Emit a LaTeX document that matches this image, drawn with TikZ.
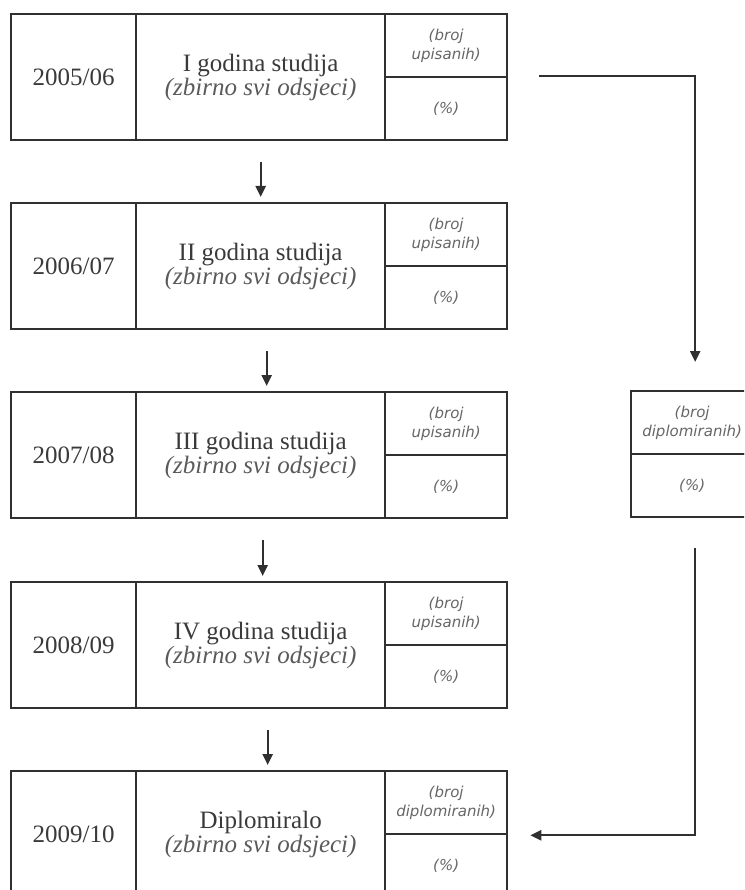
\documentclass[tikz,border=0pt]{standalone}
\usepackage{fontspec}
\setmainfont{Liberation Serif}
\newfontfamily\smallit{DejaVu Sans Oblique}
\usetikzlibrary{arrows.meta,calc}
\definecolor{ln}{HTML}{303030}
\definecolor{tx}{HTML}{3A3A3A}
\definecolor{itx}{HTML}{5A5A5A}
\definecolor{stx}{HTML}{666666}
\tikzset{
  cell/.style={draw=ln, line width=2.3pt, rectangle, inner sep=0pt, anchor=north west},
  yearcell/.style={cell, minimum width=125pt, minimum height=126pt, font=\fontsize{25}{28}\selectfont, text=tx},
  titlecell/.style={cell, minimum width=249pt, minimum height=126pt, align=center, font=\fontsize{25}{24}\selectfont, text=tx},
  smallcell/.style={cell, minimum width=122pt, minimum height=63pt, align=center, font=\smallit\fontsize{15}{18.5}\selectfont, text=stx},
  arr/.style={draw=ln, line width=2.3pt, -{Triangle[length=11pt,width=10pt]}}
}
\newcommand{\subt}{{\color{itx}\itshape (zbirno svi odsjeci)}}
\begin{document}
\begin{tikzpicture}[x=1pt,y=-1pt]
\useasboundingbox (0,0) rectangle (744,890);
\clip (0,0) rectangle (744,890);
% rows
\foreach \i/\top/\yr/\ttl/\cnt in {
  1/13/2005\slash 06/I godina studija/upisanih),
  2/202/2006\slash 07/II godina studija/upisanih),
  3/391/2007\slash 08/III godina studija/upisanih),
  4/581/2008\slash 09/IV godina studija/upisanih),
  5/770/2009\slash 10/Diplomiralo/diplomiranih)}{
  \node[yearcell] (y\i) at (10,\top) {\yr};
  \node[titlecell] (t\i) at (135,\top) {\ttl\\\subt};
  \node[smallcell] (u\i) at (384,\top) {(broj\\\cnt};
  \node[smallcell] (p\i) at (384,\top+63) {(\%)};
}
% graduates box on the right
\node[smallcell] (dg) at (630,390) {(broj\\diplomiranih)};
\node[smallcell] (dp) at (630,453) {(\%)};
% vertical arrows
\draw[arr] ([yshift=-21pt]t1.south) -- ([yshift=5pt]t2.north);
\draw[arr] ([xshift=6pt,yshift=-21pt]t2.south) -- ([xshift=6pt,yshift=5pt]t3.north);
\draw[arr] ([xshift=2pt,yshift=-21pt]t3.south) -- ([xshift=2pt,yshift=5pt]t4.north);
\draw[arr] ([xshift=7pt,yshift=-21pt]t4.south) -- ([xshift=7pt,yshift=5pt]t5.north);
% right connectors
\coordinate (rs) at ($(u1.south east)+(31,-2)$);
\draw[arr] (rs) -| ([xshift=3pt,yshift=28pt]dg.north);
\draw[arr] ([xshift=3pt,yshift=-30pt]dp.south) |- ([xshift=22pt]u5.south east);
\end{tikzpicture}
\end{document}
